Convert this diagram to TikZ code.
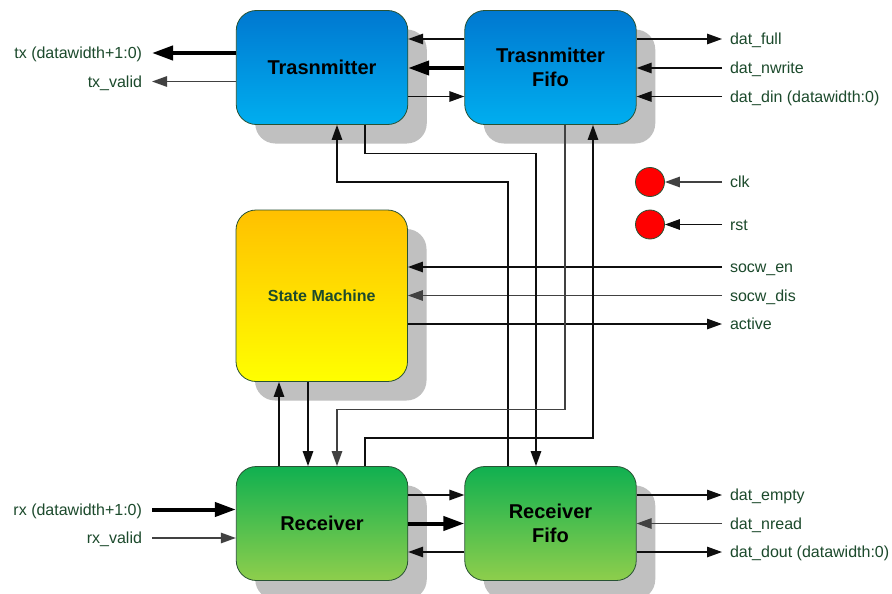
\documentclass[tikz,border=0pt]{standalone}
\usepackage{fontspec}
\setmainfont{Liberation Sans}
\usetikzlibrary{arrows.meta,shadows}

\definecolor{bluetop}{RGB}{0,120,208}
\definecolor{bluebot}{RGB}{0,174,239}
\definecolor{ambertop}{RGB}{255,192,0}
\definecolor{amberbot}{RGB}{255,255,0}
\definecolor{greentop}{RGB}{16,176,80}
\definecolor{greenbot}{RGB}{142,206,76}
\definecolor{rimcol}{RGB}{40,82,52}
\definecolor{labelcol}{RGB}{28,74,44}
\definecolor{shadowcol}{RGB}{192,192,192}
\definecolor{wirecol}{RGB}{15,15,15}
\definecolor{softwire}{RGB}{65,65,65}

\begin{document}
\begin{tikzpicture}[x=1pt,y=-1pt,
  box/.style={draw=rimcol, line width=0.8pt, rounded corners=20pt,
    minimum width=171.5pt, minimum height=114pt, align=center,
    font=\fontsize{20}{24}\selectfont\bfseries,
    general shadow={shadow xshift=19pt, shadow yshift=-19pt, fill=shadowcol, draw=none}},
  bluebox/.style={box, top color=bluetop, bottom color=bluebot},
  amberbox/.style={box, top color=ambertop, bottom color=amberbot,
    text=labelcol, font=\fontsize{16}{19}\selectfont\bfseries},
  greenbox/.style={box, top color=greentop, bottom color=greenbot},
  lab/.style={text=labelcol, font=\fontsize{16}{19}\selectfont, inner sep=0pt,
    text height=11.5pt, text depth=0pt},
  rlab/.style={lab, anchor=west, outer xsep=8pt},
  llab/.style={lab, anchor=east, outer xsep=10pt},
  wire/.style={draw=wirecol, line width=1.3pt},
  soft/.style={draw=softwire},
  arr/.style={wire, -{Triangle[length=15pt,width=10.5pt]}},
  bigarr/.style={draw=black, line width=4pt, -{Triangle[length=21pt,width=14pt]}},
  dot/.style={circle, fill=red, draw=rimcol, line width=0.8pt, minimum size=29pt, inner sep=0pt}
]
\useasboundingbox (0,0) rectangle (892,594);
\clip (0,0) rectangle (892,594);
\fill[white] (0,0) rectangle (892,594);

% functional blocks
\node[bluebox] (T) at (322,67.5) {Trasnmitter};
\node[bluebox] (TF) at (550.5,67.5) {Trasnmitter\\Fifo};
\node[amberbox, minimum height=171.5pt] (SM) at (321.75,295.75) {State Machine};
\node[greenbox] (R) at (322,523.5) {Receiver};
\node[greenbox] (RF) at (550.5,523.5) {Receiver\\Fifo};

% clock and reset pins
\node[dot] (clkdot) at (650,182) {};
\node[dot] (rstdot) at (650,224.5) {};

% port labels
\node[llab] (tx) at (152,53) {tx (datawidth+1:0)};
\node[llab] (txvalid) at (152,81.5) {tx\_valid};
\node[llab] (rx) at (152,509.5) {rx (datawidth+1:0)};
\node[llab] (rxvalid) at (152,538) {rx\_valid};
\node[rlab] (datfull) at (722,39) {dat\_full};
\node[rlab] (datnwrite) at (722,68) {dat\_nwrite};
\node[rlab] (datdin) at (722,96.5) {dat\_din (datawidth:0)};
\node[rlab] (clk) at (722,182) {clk};
\node[rlab] (rst) at (722,224.5) {rst};
\node[rlab] (socwen) at (722,267) {socw\_en};
\node[rlab] (socwdis) at (722,295.5) {socw\_dis};
\node[rlab] (active) at (722,324) {active};
\node[rlab] (datempty) at (722,495) {dat\_empty};
\node[rlab] (datnread) at (722,523.5) {dat\_nread};
\node[rlab] (datdout) at (722,552) {dat\_dout (datawidth:0)};

% transmitter side
\draw[bigarr] (T.west |- tx) -- (tx.east);
\draw[arr, soft] (T.west |- txvalid) -- (txvalid.east);
\draw[arr] (TF.west |- 0,39) -- (T.east |- 0,39);
\draw[bigarr] (TF.west |- 0,68) -- (T.east |- 0,68);
\draw[arr] (T.east |- 0,96.5) -- (TF.west |- 0,96.5);
\draw[arr] (TF.east |- datfull) -- (datfull.west);
\draw[arr] (datnwrite.west) -- (TF.east |- datnwrite);
\draw[arr] (datdin.west) -- (TF.east |- datdin);

% clock and reset
\draw[arr, soft] (clk.west) -- (clkdot.east);
\draw[arr] (rst.west) -- (rstdot.east);

% state machine control
\draw[arr] (socwen.west) -- (SM.east |- socwen);
\draw[arr, soft] (socwdis.west) -- (SM.east |- socwdis);
\draw[arr] (SM.east |- active) -- (active.west);
\draw[arr] (R.north -| 279,0) -- (SM.south -| 279,0);
\draw[arr] (SM.south -| 308,0) -- (R.north -| 308,0);

% cross connections between the transmit and receive paths
\draw[arr] (RF.north -| 508,0) |- (337,182) -- (T.south -| 337,0);
\draw[arr] (T.south -| 365,0) |- (536,153.5) -- (RF.north -| 536,0);
\draw[arr, soft] (TF.south -| 565,0) |- (337,409.5) -- (R.north -| 337,0);
\draw[arr] (R.north -| 365,0) |- (593,438) -- (TF.south -| 593,0);

% receiver side
\draw[bigarr] (rx.east) -- (R.west |- rx);
\draw[arr, soft] (rxvalid.east) -- (R.west |- rxvalid);
\draw[arr] (R.east |- 0,495) -- (RF.west |- 0,495);
\draw[bigarr] (R.east |- 0,523.5) -- (RF.west |- 0,523.5);
\draw[arr] (RF.west |- 0,552) -- (R.east |- 0,552);
\draw[arr] (RF.east |- datempty) -- (datempty.west);
\draw[arr, soft] (datnread.west) -- (RF.east |- datnread);
\draw[arr] (RF.east |- datdout) -- (datdout.west);
\end{tikzpicture}
\end{document}
